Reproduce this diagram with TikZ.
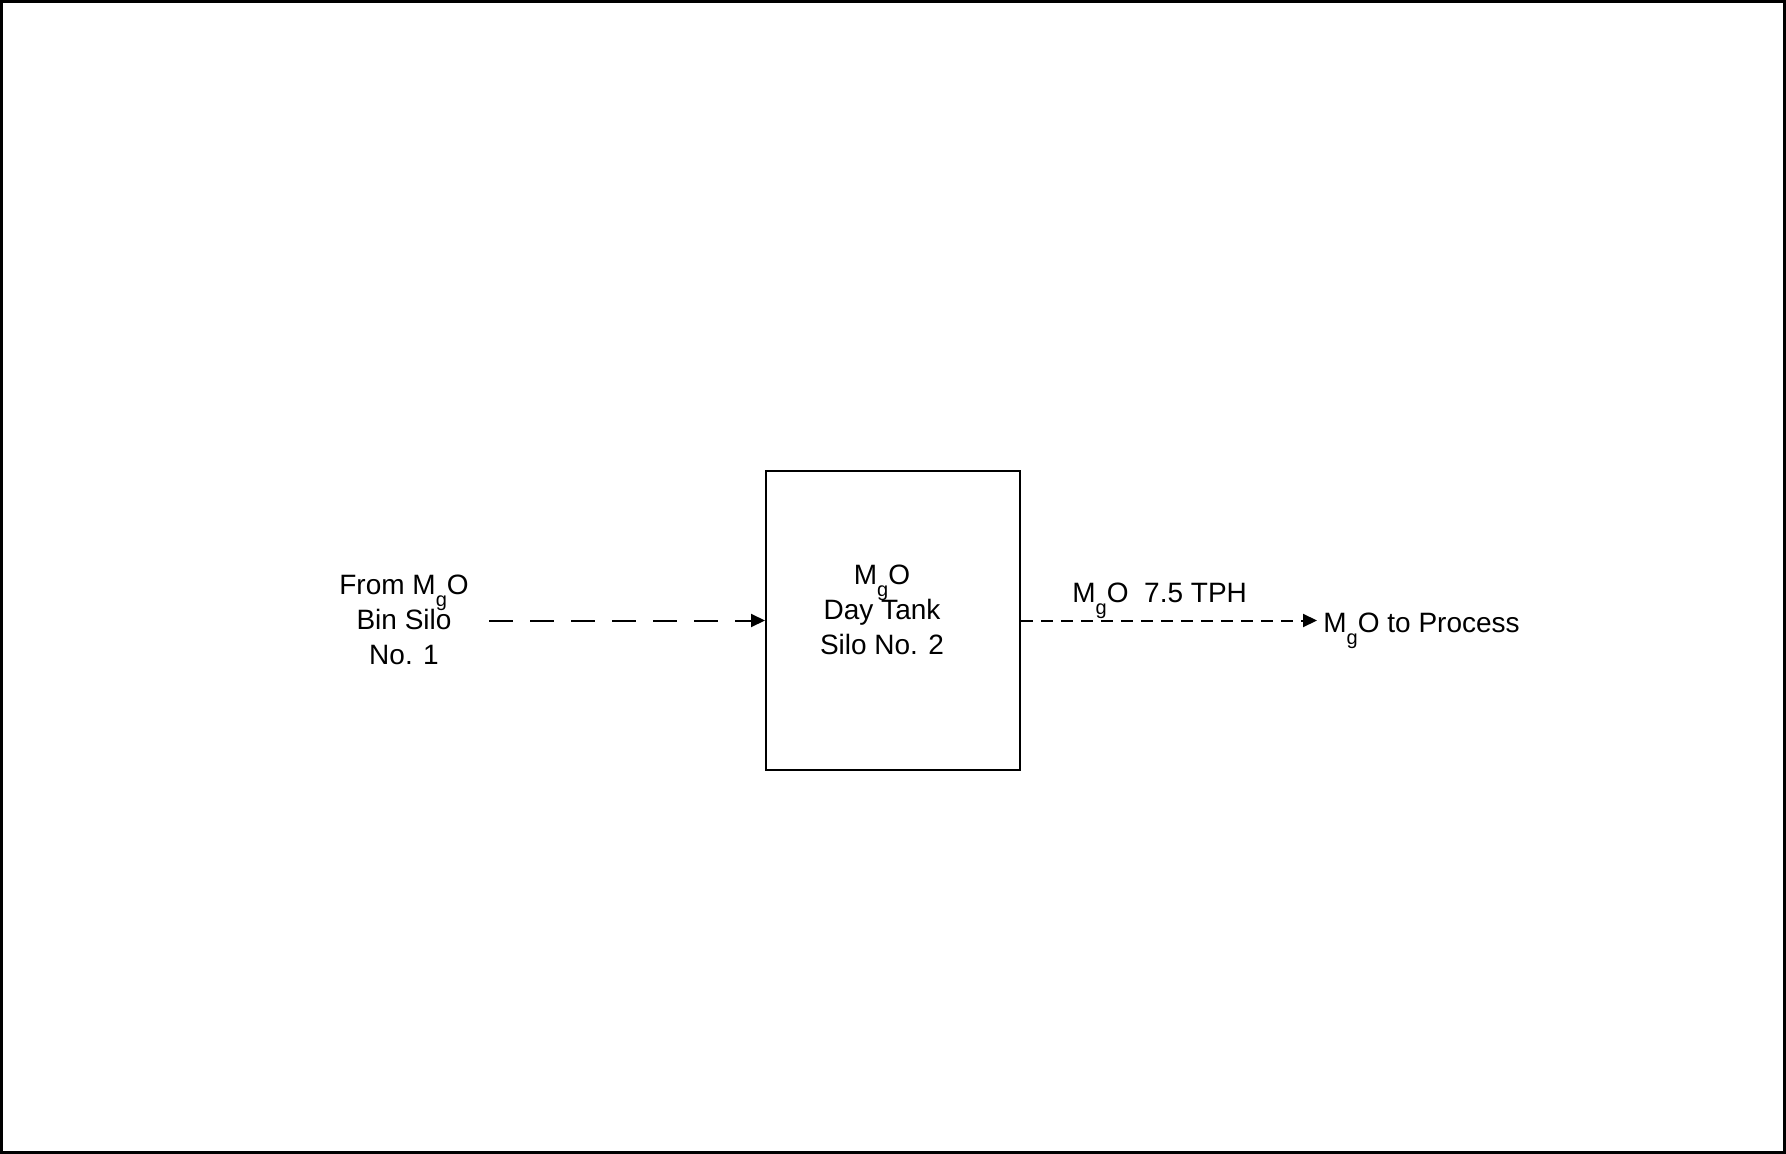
\documentclass[tikz,border=0pt]{standalone}
\usepackage{fontspec}
\setmainfont{Liberation Sans}
\usetikzlibrary{arrows.meta}
\newcommand\MgOx{M\raisebox{-6pt}[0pt][0pt]{\fontsize{10}{10}\selectfont g}O}
\tikzset{
  lbl/.style={inner sep=0pt, font=\fontsize{14}{17.5}\selectfont, align=center},
  silobox/.style={draw, line width=1pt, inner sep=0pt, minimum width=127pt, minimum height=149.5pt},
  flowlong/.style={line width=1pt, dash pattern=on 12pt off 8.5pt, -{Triangle[length=7pt,width=6.5pt]}},
  flowshort/.style={line width=1pt, dash pattern=on 6pt off 4pt, -{Triangle[length=7pt,width=6.5pt]}},
}
\begin{document}
\begin{tikzpicture}[x=0.5pt,y=-0.5pt]
\useasboundingbox (0,0) rectangle (1786,1154);
\draw[line width=1.5pt] (1.5,1.5) rectangle (1784.5,1152.5);
\node[silobox] (tank) at (893,620.5) {};
\node[lbl] (tanktxt) at (882,609.5) {\MgOx\\Day Tank\\Silo No. 2};
\node[lbl] (src) at (404,620) {From \MgOx\\Bin Silo\\No. 1};
\coordinate (srcend) at (489,620.5);
\coordinate (outend) at (1317,620.5);
\node[lbl, anchor=base west] (dest) at (1323,632) {\MgOx{} to Process};
\node[lbl, anchor=base west] (rate) at (1072,602) {\MgOx{}\ \ 7.5 TPH};
\draw[flowlong] (srcend) -- (tank.west);
\draw[flowshort] (tank.east) -- (outend);
\end{tikzpicture}
\end{document}
